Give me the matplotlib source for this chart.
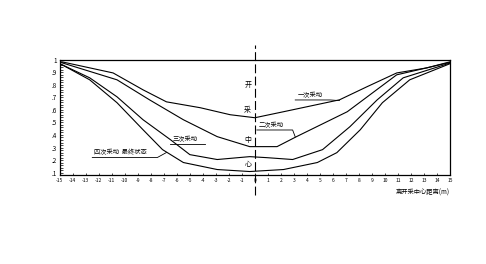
import matplotlib
matplotlib.use("Agg")
import matplotlib.pyplot as plt
from matplotlib.ticker import MultipleLocator

plt.rcParams['font.family'] = ['Noto Sans CJK SC', 'DejaVu Sans']

# curve 1 (top)
x1 = [-15, -14.8, -10.9, -8.6, -6.8, -4.2, -1.9, 0, 2.2, 6.5, 8.6, 10.9, 13.2, 15]
y1 = [0.985, 0.984, 0.896, 0.761, 0.665, 0.618, 0.562, 0.538, 0.586, 0.681, 0.785, 0.896, 0.936, 0.985]
# curve 2
x2 = [-15, -14.8, -10.6, -8.1, -5.5, -2.9, -0.4, 1.7, 3.2, 7.1, 10.9, 15]
y2 = [0.98, 0.976, 0.841, 0.681, 0.522, 0.387, 0.307, 0.307, 0.387, 0.586, 0.881, 0.98]
# curve 3
x3 = [-15, -14.8, -12.7, -10.6, -8.6, -6.5, -5.0, -2.9, -0.4, 0.9, 2.9, 5.2, 7.3, 9.4, 11.4, 15]
y3 = [0.965, 0.960, 0.857, 0.705, 0.522, 0.363, 0.243, 0.204, 0.227, 0.219, 0.204, 0.283, 0.466, 0.681, 0.857, 0.975]
# curve 4 (bottom)
x4 = [-15, -14.8, -12.7, -10.6, -8.6, -7.1, -5.5, -2.9, -0.4, 2.2, 4.8, 6.3, 8.1, 9.8, 11.9, 15]
y4 = [0.965, 0.960, 0.841, 0.658, 0.442, 0.283, 0.180, 0.124, 0.108, 0.124, 0.180, 0.259, 0.442, 0.658, 0.841, 0.97]

xticks = list(range(-15, 16))
yticks = [0.1, 0.2, 0.3, 0.4, 0.5, 0.6, 0.7, 0.8, 0.9, 1.0]
ylabels = ['.1', '.2', '.3', '.4', '.5', '.6', '.7', '.8', '.9', '1']

fig = plt.figure(figsize=(4.86, 2.64), dpi=100)
ax = fig.add_axes([0.123, 0.337, 0.803, 0.436])

for xs, ys in [(x1, y1), (x2, y2), (x3, y3), (x4, y4)]:
    ax.plot(xs, ys, color='black', lw=0.8)

ax.set_xlim(-15, 15)
ax.set_ylim(0.08, 1.0)
ax.set_xticks(xticks)
ax.set_xticklabels([str(v) for v in xticks], fontsize=3.5)
ax.set_yticks(yticks)
ax.set_yticklabels(ylabels, fontsize=4.5)
ax.yaxis.set_minor_locator(MultipleLocator(0.02))
ax.tick_params(axis='y', which='both', direction='in', length=2, width=0.5, pad=2)
ax.tick_params(axis='x', direction='in', length=1.5, width=0.5, pad=2)
for s in ax.spines.values():
    s.set_linewidth(0.9)

# center line
ax.axvline(0, ymin=-0.17, ymax=1.13, color='black', lw=0.8,
           dashes=(8, 3), clip_on=False)
for ch, yy in zip('开采中心', [0.8, 0.6, 0.36, 0.16]):
    ax.text(-0.55, yy, ch, fontsize=5, ha='center', va='center')

# curve labels
ax.plot([3.1, 5.8, 6.5], [0.68, 0.68, 0.675], color='black', lw=0.6)
ax.text(3.3, 0.69, '一次采动', fontsize=4.5, ha='left', va='bottom')
ax.plot([0.15, 2.9, 3.1], [0.44, 0.44, 0.385], color='black', lw=0.6)
ax.text(0.3, 0.45, '二次采动', fontsize=4.5, ha='left', va='bottom')
ax.plot([-6.5, -3.8], [0.33, 0.33], color='black', lw=0.6)
ax.text(-6.3, 0.34, '三次采动', fontsize=4.5, ha='left', va='bottom')
ax.plot([-12.5, -7.5, -6.8], [0.22, 0.22, 0.26], color='black', lw=0.6)
ax.text(-12.4, 0.23, '四次采动  最终状态', fontsize=4.5, ha='left', va='bottom')

fig.text(0.925, 0.27, '离开采中心距离(m)', fontsize=4.5, ha='right', va='center')

fig.savefig('out.png', dpi=100)
